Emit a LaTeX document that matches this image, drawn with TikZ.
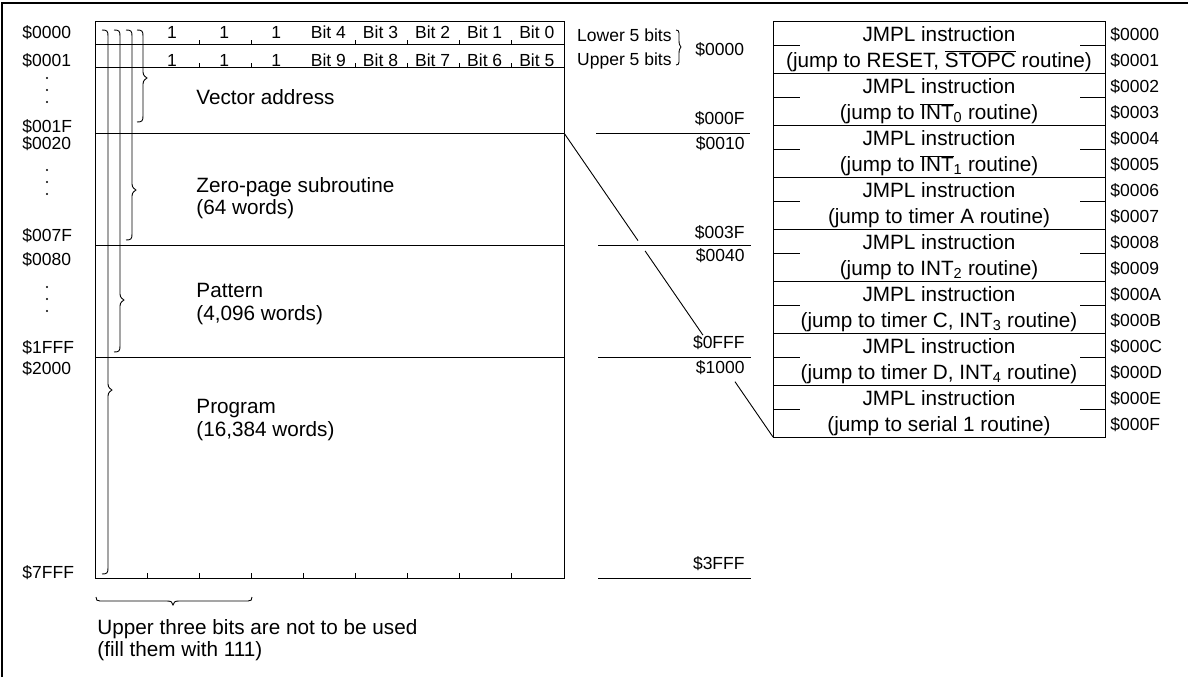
\documentclass[tikz,border=0pt]{standalone}
\usepackage{fontspec}
\setmainfont{Liberation Sans}
\usetikzlibrary{calc}
\newcommand\ovl[1]{$\overline{\hbox{#1}}$}
\newcommand\vbr[5]{% x, top, tip, bottom, hook
  \draw (#1-#5,#2) .. controls (#1-1,#2) and (#1,#2+1) .. (#1,#2+#5)
    -- (#1,#3-6) .. controls (#1,#3-2) and (#1+#5*0.5,#3-1) .. (#1+#5*0.65,#3)
    .. controls (#1+#5*0.5,#3+1) and (#1,#3+2) .. (#1,#3+6)
    -- (#1,#4-#5) .. controls (#1,#4-1) and (#1-1,#4) .. (#1-#5,#4);}
\begin{document}
\begin{tikzpicture}[x=1pt,y=-1pt,line width=0.9pt,
  addr/.style={font=\fontsize{17.5}{20}\selectfont,inner sep=0pt,text height=12.5pt,text depth=0pt},
  big/.style={font=\fontsize{20.7}{24}\selectfont,inner sep=0pt,text height=14.8pt,text depth=0pt},
  dotv/.style={fill,circle,inner sep=0pt,minimum size=2.4pt}]
\useasboundingbox (0,0) rectangle (1188,677);
% outer frame
\draw[line width=1.1pt] (2,677) -- (2,3) -- (1188,3);
% main memory box
\coordinate (mtl) at (95,21);
\coordinate (mbr) at (564,578);
\draw (mtl) rectangle (mbr);
\foreach \y in {44,67,133,245,357} \draw (95,\y) -- (564,\y);
\coordinate (zc) at (564,133);
% ticks
\foreach \i in {2,3,5,6,7,8} {
  \draw (95+52.1*\i,44) -- ++(0,-4);
  \draw (95+52.1*\i,67) -- ++(0,-4);
}
\foreach \i in {1,...,8} \draw (95+52.1*\i,578) -- ++(0,-5);
% bit labels
\foreach \t [count=\i] in {1,1,1,Bit 4,Bit 3,Bit 2,Bit 1,Bit 0}
  \node[addr] (ra\i) at (95+52.1*\i+25,32) {\t};
\foreach \t [count=\i] in {1,1,1,Bit 9,Bit 8,Bit 7,Bit 6,Bit 5}
  \node[addr] (rb\i) at (95+52.1*\i+25,60) {\t};
% braces inside the box
\vbr{143}{30}{78}{122}{6}
\vbr{132}{30}{190}{240}{6}
\vbr{120}{30}{300}{352}{6}
\vbr{108}{30}{390}{574}{6}
% section texts
\node[big,anchor=west] (va) at (196,97) {Vector address};
\node[big,anchor=west] (zp1) at (196,185) {Zero-page subroutine};
\node[big,anchor=west] (zp2) at (196,207) {(64 words)};
\node[big,anchor=west] (pa1) at (196,290) {Pattern};
\node[big,anchor=west] (pa2) at (196,313) {(4,096 words)};
\node[big,anchor=west] (pr1) at (196,406) {Program};
\node[big,anchor=west] (pr2) at (196,429) {(16,384 words)};
% left addresses
\node[addr,anchor=west] (l0) at (22,32) {\$0000};
\node[addr,anchor=west] (l1) at (22,60) {\$0001};
\node[addr,anchor=west] (l2) at (22,126) {\$001F};
\node[addr,anchor=west] (l3) at (22,143) {\$0020};
\node[addr,anchor=west] (l4) at (22,235) {\$007F};
\node[addr,anchor=west] (l5) at (22,259) {\$0080};
\node[addr,anchor=west] (l6) at (22,347) {\$1FFF};
\node[addr,anchor=west] (l7) at (22,368) {\$2000};
\node[addr,anchor=west] (l8) at (22,572) {\$7FFF};
\foreach \y in {78,90,102,170,182,194,287,299,311} \node[dotv] at (47,\y) {};
% bottom brace and note
\draw (96,597) .. controls (96,600) and (97,601) .. (100,601) -- (167,601)
  .. controls (171,601) and (172.5,602) .. (173,605)
  .. controls (173.5,602) and (175,601) .. (179,601) -- (248,601)
  .. controls (251,601) and (252,600) .. (252,597);
\node[big,anchor=west] (n1) at (97,627) {Upper three bits are not to be used};
\node[big,anchor=west] (n2) at (97,649) {(fill them with 111)};
% lower/upper 5 bits
\node[addr,anchor=east] (lo) at (672,35) {Lower 5 bits};
\node[addr,anchor=east] (up) at (672,59) {Upper 5 bits};
\vbr{679}{30}{47}{65}{3}
\node[addr,anchor=west] (v0) at (695,49) {\$0000};
% middle address marks
\node[addr,anchor=east] (m1) at (745,118) {\$000F};
\node[addr,anchor=east] (m2) at (745,143) {\$0010};
\node[addr,anchor=east] (m3) at (745,232) {\$003F};
\node[addr,anchor=east] (m4) at (745,255) {\$0040};
\node[addr,anchor=east] (m5) at (745,342) {\$0FFF};
\node[addr,anchor=east] (m6) at (745,367) {\$1000};
\node[addr,anchor=east] (m7) at (745,563) {\$3FFF};
\draw (596,133) -- (750,133);
\draw (598,245) -- (751,245);
\draw (598,357) -- (751,357);
\draw (598,578) -- (751,578);
% vector table
\coordinate (ttl) at (773,21);
\coordinate (tbl) at (773,437);
\draw (ttl) rectangle (1105,437);
\foreach \k in {1,...,7} \draw (773,21+52*\k) -- (1105,21+52*\k);
\foreach \k in {0,...,7} {
  \draw (773,45+52*\k) -- (800,45+52*\k);
  \draw (1080,45+52*\k) -- (1105,45+52*\k);
}
\foreach \t [count=\i from 0] in {{(jump to RESET, \ovl{STOPC} routine)},
    {(jump to \ovl{INT}\textsubscript{0} routine)},
    {(jump to \ovl{INT}\textsubscript{1} routine)},
    {(jump to timer A routine)},
    {(jump to INT\textsubscript{2} routine)},
    {(jump to timer C, INT\textsubscript{3} routine)},
    {(jump to timer D, INT\textsubscript{4} routine)},
    {(jump to serial 1 routine)}} {
  \node[big] (ja\i) at (939,34+52*\i) {JMPL instruction};
  \node[big] (jb\i) at (939,60+52*\i) {\t};
}
\foreach \h [count=\k from 0] in {0,1,2,3,4,5,6,7,8,9,A,B,C,D,E,F}
  \node[addr,anchor=west] (r\k) at (1110,34+26*\k) {\$000\h};
% diagonal expansion line
\draw (zc) -- ($(zc)!0.354!(tbl)$);
\draw ($(zc)!0.388!(tbl)$) -- ($(zc)!0.665!(tbl)$);
\draw ($(zc)!0.818!(tbl)$) -- (tbl);
\end{tikzpicture}
\end{document}
